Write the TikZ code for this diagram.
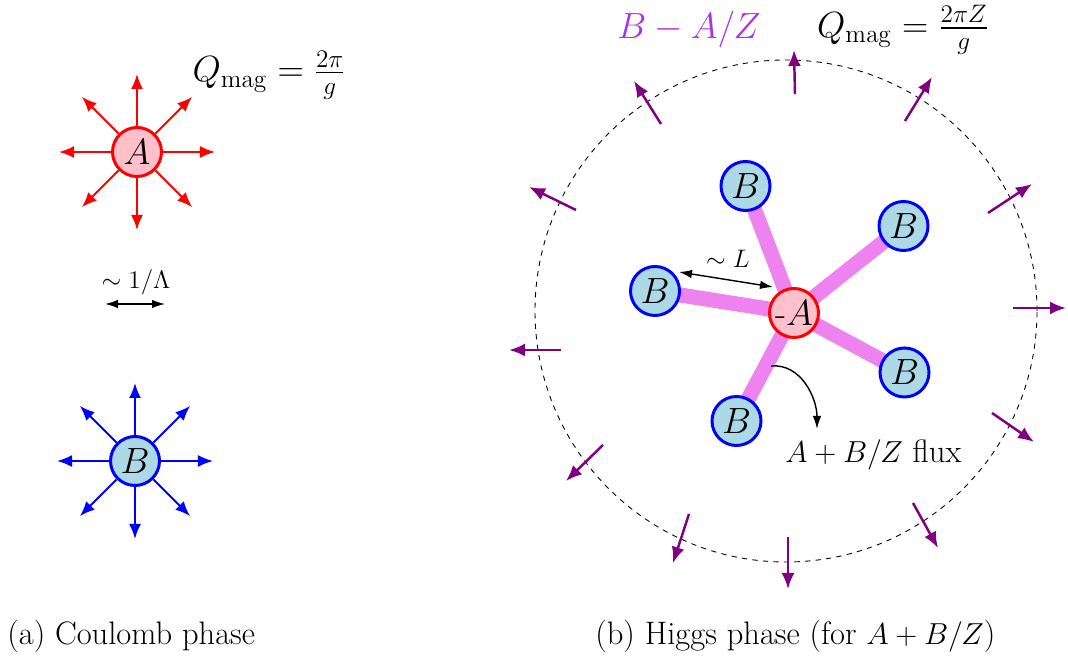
\documentclass[tikz,border=0pt]{standalone}
\usepackage{amsmath,amssymb}
\usetikzlibrary{
		arrows.meta,
		backgrounds
	}
\definecolor{fluxpurple}{RGB}{128,0,128}
\definecolor{stringviolet}{RGB}{238,130,238}
\definecolor{chargeviolet}{RGB}{170,50,235}
\definecolor{bfill}{RGB}{173,216,230}
\definecolor{afill}{RGB}{255,192,203}
\tikzset{
		>={Latex[length=2.6mm,width=1.7mm]},
		acharge/.style={circle,draw=red,fill=afill,line width=1.7pt,minimum size=0.98cm,inner sep=0pt,font=\huge},
		bcharge/.style={circle,draw=blue,fill=bfill,line width=1.7pt,minimum size=0.98cm,inner sep=0pt,font=\huge},
		afield/.style={red,line width=1.1pt,-{Latex[length=3mm,width=2.4mm]}},
		bfield/.style={blue,line width=1.1pt,-{Latex[length=3mm,width=2.4mm]}},
		fluxarrow/.style={fluxpurple,line width=1.4pt,-{Latex[length=3.2mm,width=2.6mm]}},
		fluxstring/.style={stringviolet,line width=0.3cm},
		caption/.style={anchor=base west,inner sep=0pt,font=\fontsize{18.5}{22}\selectfont}
	}

\begin{document}
\begin{tikzpicture}
\useasboundingbox (0,0) rectangle (21.36,13.2);

\node[acharge] (qa) at (2.74,10.16) {$A$};
\node[bcharge] (qb) at (2.70,3.98) {$B$};
\foreach \a in {0,45,...,315} {
	\draw[afield] (qa.\a) -- ++(\a:1.04);
	\draw[bfield] (qb.\a) -- ++(\a:1.04);
}
\node (qmagA) at (5.38,11.7) {\huge $Q_{\mathrm{mag}}=\frac{2\pi}{g}$};
\coordinate (lamL) at (2.1,7.12);
\coordinate (lamR) at (3.3,7.12);
\draw[<->,line width=0.8pt] (lamL) -- (lamR);
\node (lam) at (2.72,7.56) {\Large $\sim 1/\Lambda$};

\node (bmaz) at (13.78,12.62) {\fontsize{22.6}{27}\selectfont\color{chargeviolet}$B-A/Z$};
\node (qmagB) at (18.06,12.6) {\huge $Q_{\mathrm{mag}}=\frac{2\pi Z}{g}$};
\draw[dashed,line width=0.5pt] (15.72,6.98) circle (5.02);
\foreach \sx/\sy/\ex/\ey in {15.9/11.32/15.88/12.2, 13.22/10.72/12.68/11.58, 18.1/10.78/18.64/11.66,
		11.52/9.0/10.58/9.46, 19.76/8.94/20.64/9.52, 11.22/6.2/10.18/6.2, 20.26/7.04/21.32/7.04,
		12.06/4.3/11.32/3.58, 19.84/4.94/20.68/4.36, 13.78/2.92/13.46/1.94, 15.76/2.46/15.76/1.42,
		18.26/3.14/18.76/2.24}
	\draw[fluxarrow] (\sx,\sy) -- (\ex,\ey);

\node[acharge] (ma) at (15.88,6.94) {-$A$};
\node[bcharge] (b1) at (14.91,9.48) {$B$};
\node[bcharge] (b2) at (18.07,8.68) {$B$};
\node[bcharge] (b3) at (13.10,7.38) {$B$};
\node[bcharge] (b4) at (18.09,5.75) {$B$};
\node[bcharge] (b5) at (14.73,4.78) {$B$};
\begin{pgfonlayer}{background}
\foreach \b in {b1,b2,b3,b4,b5}
	\draw[fluxstring] (ma.center) -- (\b.center);
\end{pgfonlayer}
\coordinate (Ls) at (13.58,7.76);
\coordinate (Le) at (15.46,7.46);
\draw[<->,line width=0.8pt] (Ls) -- (Le);
\node (lsim) at (14.56,8.02) {\Large $\sim L$};
\coordinate (fs) at (15.42,5.88);
\coordinate (fe) at (16.34,4.62);
\draw[->,line width=0.8pt] (fs) to[out=5,in=90] (fe);
\node[caption] (flux) at (15.7,3.94) {$A+B/Z$ flux};

\node[caption] (capa) at (0.14,0.3) {(a) Coulomb phase};
\node[caption] (capb) at (11.9,0.3) {(b) Higgs phase (for $A+B/Z$)};
\end{tikzpicture}
\end{document}
